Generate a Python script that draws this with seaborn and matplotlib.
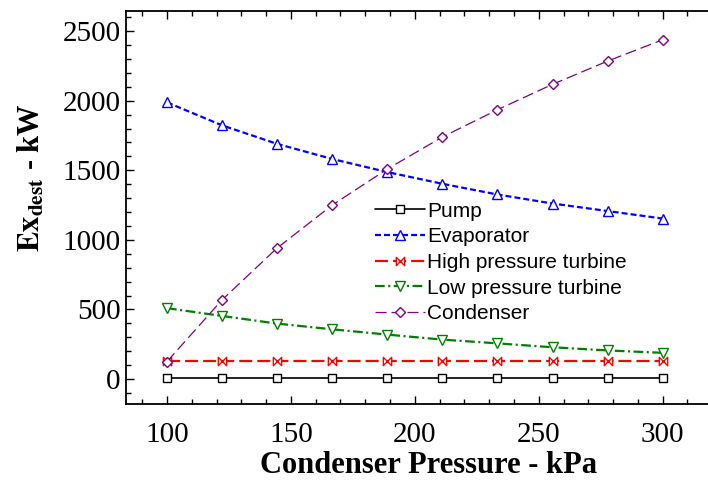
import matplotlib
matplotlib.use("Agg")
import matplotlib.pyplot as plt
from matplotlib.path import Path
from matplotlib.ticker import MultipleLocator
import seaborn as sns
import pandas as pd

# Exergy destruction per component vs condenser pressure
pressure = [100, 122.2, 144.4, 166.7, 188.9, 211.1, 233.3, 255.6, 277.8, 300]
pump = [10, 10, 10, 10, 10, 10, 10, 10, 10, 10]
evaporator = [1988, 1823, 1690, 1581, 1487, 1403, 1326, 1261, 1207, 1153]
hp_turbine = [128, 128, 128, 128, 128, 128, 128, 128, 128, 128]
lp_turbine = [509, 453, 398, 357, 319, 283, 256, 228, 205, 188]
condenser = [125, 568, 941, 1250, 1509, 1739, 1935, 2118, 2285, 2438]

labels = ["Pump", "Evaporator", "High pressure turbine",
          "Low pressure turbine", "Condenser"]
series = [pump, evaporator, hp_turbine, lp_turbine, condenser]

sns.set_style("ticks")
plt.rcParams["font.family"] = ["Liberation Serif", "DejaVu Serif"]
plt.rcParams["mathtext.fontset"] = "stix"
plt.rcParams["lines.scale_dashes"] = False
plt.rcParams["text.color"] = "black"
plt.rcParams["axes.labelcolor"] = "black"
plt.rcParams["xtick.color"] = "black"
plt.rcParams["ytick.color"] = "black"

# bow-tie marker for the high pressure turbine
bowtie = Path([(-1, -1), (-1, 1), (1, -1), (1, 1), (-1, -1)],
              [Path.MOVETO, Path.LINETO, Path.LINETO, Path.LINETO, Path.CLOSEPOLY])

styles = [
    dict(color="black", marker="s", linestyle="-", linewidth=1.2, markersize=6),
    dict(color="#0000FF", marker="^", linestyle=(0, (4.3, 2.2)), linewidth=1.6, markersize=6.5),
    dict(color="#FF0000", marker=bowtie, linestyle=(0, (9.4, 3.6)), linewidth=1.6, markersize=6),
    dict(color="#008000", marker="v", linestyle=(0, (7, 2.5, 1.5, 2.5)), linewidth=1.6, markersize=6.5),
    dict(color="#800080", marker="D", linestyle=(0, (8, 3.5)), linewidth=0.9, markersize=5),
]

fig = plt.figure(figsize=(7.08, 4.95), dpi=100)
ax = fig.add_axes([126 / 708, 1 - 404.3 / 495, 582 / 708, 393.6 / 495])

for name, values, st in zip(labels, series, styles):
    df = pd.DataFrame({"p": pressure, "ex": values})
    sns.lineplot(data=df, x="p", y="ex", ax=ax, label=name,
                 color=st["color"], marker=st["marker"],
                 linestyle=st["linestyle"], linewidth=st["linewidth"],
                 markersize=st["markersize"], markerfacecolor="white",
                 markeredgecolor=st["color"], markeredgewidth=1.0)

ax.set_xlim(83.45, 318.3)
ax.set_ylim(-182, 2647)
ax.xaxis.set_major_locator(MultipleLocator(50))
ax.xaxis.set_minor_locator(MultipleLocator(10))
ax.yaxis.set_major_locator(MultipleLocator(500))
ax.yaxis.set_minor_locator(MultipleLocator(100))
ax.tick_params(which="both", direction="in", top=True, right=False,
               width=1.0, colors="black", labelcolor="black")
ax.tick_params(which="major", length=6, labelsize=21)
ax.tick_params(which="minor", length=3.5)
ax.tick_params(axis="x", which="major", pad=13)
ax.tick_params(axis="y", which="major", pad=4)
for side in ["left", "bottom", "top"]:
    ax.spines[side].set_linewidth(1.3)
    ax.spines[side].set_color("black")
ax.spines["right"].set_visible(False)

ax.set_xlabel("Condenser Pressure - kPa", fontsize=22, fontweight="bold",
              color="black")
ax.set_ylabel(r"$\mathbf{Ex_{dest}}$ - kW", fontsize=22, fontweight="bold",
              color="black")
ax.xaxis.set_label_coords(0.52, -0.118)
ax.yaxis.set_label_coords(-0.136, 0.577)

handles, lbls = ax.get_legend_handles_labels()
ax.legend(handles, lbls, loc="upper left",
          bbox_to_anchor=(375 / 708, 1 - 201.6 / 495),
          bbox_transform=fig.transFigure, frameon=False,
          prop={"family": ["Liberation Sans", "DejaVu Sans"], "size": 15},
          handlelength=2.4, handletextpad=0.1, labelspacing=0.32,
          borderpad=0, borderaxespad=0)

fig.savefig("out.png", dpi=100)
